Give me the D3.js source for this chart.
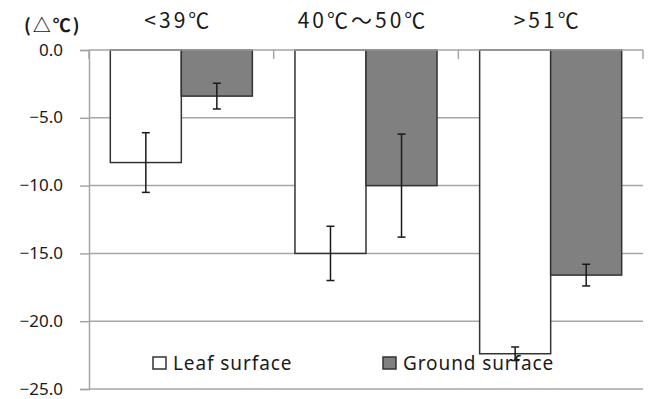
<!DOCTYPE html>
<html>
<head>
<meta charset="utf-8">
<script src="https://cdn.jsdelivr.net/npm/d3@7"></script>
<style>
  body { margin: 0; background: #fff; }
  text { font-family: "Noto Sans", "Noto Sans CJK KR", sans-serif; fill: #1a1a1a; }
</style>
</head>
<body>
<svg id="chart" width="648" height="399"></svg>
<script>
// data
var categories = ["<39℃", "40℃～50℃", ">51℃"];
var series = ["Leaf surface", "Ground surface"];
var leafMean = [-8.3, -15.0, -22.4];
var leafErr = [2.2, 2.0, 0.5];
var groundMean = [-3.4, -10.0, -16.6];
var groundErr = [0.95, 3.8, 0.8];
var yTicks = [0, -5, -10, -15, -20, -25];

var svg = d3.select("#chart");
var mLeft = 89, mRight = 643, mTop = 50, mBottom = 389;

var x0 = d3.scaleBand().domain(categories).range([mLeft, mRight]);
var x1 = d3.scaleBand().domain(series).range([0, x0.bandwidth()]).paddingOuter(0.3).paddingInner(0);
var y = d3.scaleLinear().domain([0, -25]).range([mTop, mBottom]);
var fill = d3.scaleOrdinal().domain(series).range(["#ffffff", "#808080"]);

var rows = [];
categories.forEach(function(c, i) {
  rows.push({cat: c, s: series[0], v: leafMean[i], e: leafErr[i]});
  rows.push({cat: c, s: series[1], v: groundMean[i], e: groundErr[i]});
});

// gridlines
svg.append("g").selectAll("line").data(yTicks.slice(1)).join("line")
  .attr("x1", mLeft).attr("x2", mRight)
  .attr("y1", function(d) { return y(d); })
  .attr("y2", function(d) { return y(d); })
  .style("stroke", "#a6a6a6").style("stroke-width", 1.5);

// y axis
var yAxis = svg.append("g").attr("transform", "translate(" + mLeft + ",0)")
  .call(d3.axisLeft(y).tickValues(yTicks).tickFormat(d3.format(".1f")).tickSize(9).tickPadding(17));
yAxis.select(".domain").style("stroke", "#a6a6a6").style("stroke-width", 1.5);
yAxis.selectAll(".tick line").style("stroke", "#a6a6a6").style("stroke-width", 1.5);
yAxis.selectAll(".tick text").style("font-size", "17px").style("fill", "#1a1a1a")
  .style("font-family", "'Noto Sans', sans-serif").attr("dy", "0.3em");

// bars
svg.append("g").selectAll("rect").data(rows).join("rect")
  .attr("x", function(d) { return x0(d.cat) + x1(d.s); })
  .attr("y", y(0))
  .attr("width", x1.bandwidth())
  .attr("height", function(d) { return y(d.v) - y(0); })
  .style("fill", function(d) { return fill(d.s); })
  .style("stroke", "#333").style("stroke-width", 1.5);

// top category axis line with ticks pointing down
svg.append("line").attr("x1", mLeft).attr("x2", mRight).attr("y1", mTop).attr("y2", mTop)
  .style("stroke", "#a6a6a6").style("stroke-width", 1.5);
var bounds = categories.map(function(c) { return x0(c); }).concat([mRight]);
svg.append("g").selectAll("line").data(bounds).join("line")
  .attr("x1", function(d) { return d; }).attr("x2", function(d) { return d; })
  .attr("y1", mTop).attr("y2", mTop + 9)
  .style("stroke", "#a6a6a6").style("stroke-width", 1.5);

// error bars
var eb = svg.append("g").selectAll("g").data(rows).join("g")
  .attr("transform", function(d) { return "translate(" + (x0(d.cat) + x1(d.s) + x1.bandwidth() / 2) + ",0)"; });
eb.append("line").attr("y1", function(d) { return y(d.v + d.e); }).attr("y2", function(d) { return y(d.v - d.e); })
  .style("stroke", "#1a1a1a").style("stroke-width", 1.5);
eb.append("line").attr("x1", -4).attr("x2", 4)
  .attr("y1", function(d) { return y(d.v + d.e); }).attr("y2", function(d) { return y(d.v + d.e); })
  .style("stroke", "#1a1a1a").style("stroke-width", 1.5);
eb.append("line").attr("x1", -4).attr("x2", 4)
  .attr("y1", function(d) { return y(d.v - d.e); }).attr("y2", function(d) { return y(d.v - d.e); })
  .style("stroke", "#1a1a1a").style("stroke-width", 1.5);

// category labels on top
svg.append("g").selectAll("text").data(categories).join("text")
  .attr("x", function(d) { return x0(d) + x0.bandwidth() / 2 - 3; })
  .attr("y", 28)
  .attr("text-anchor", "middle")
  .style("font-family", "'Noto Sans CJK KR', sans-serif")
  .style("font-size", "21px").style("letter-spacing", "3px")
  .text(function(d) { return d; });

// unit label
svg.append("text").attr("x", 24).attr("y", 32)
  .style("font-family", "'Noto Sans CJK KR', sans-serif")
  .style("font-size", "18px").style("font-weight", "bold").style("letter-spacing", "2px")
  .text("(△℃)");

// legend
var legendX = [153, 383];
var lg = svg.append("g").selectAll("g").data(series).join("g")
  .attr("transform", function(d, i) { return "translate(" + legendX[i] + ",357)"; });
lg.append("rect").attr("width", 13).attr("height", 12)
  .style("fill", function(d) { return fill(d); }).style("stroke", "#333").style("stroke-width", 1.5);
lg.append("text").attr("x", 20).attr("y", 13).style("font-size", "19px").style("letter-spacing", "0.9px")
  .text(function(d) { return d; });
</script>
</body>
</html>
